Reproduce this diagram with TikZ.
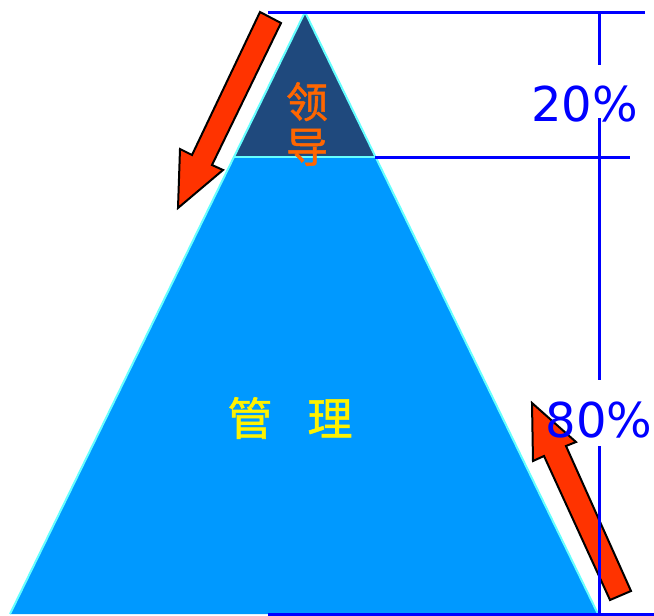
\documentclass[tikz,border=0pt]{standalone}
\usepackage{fontspec}
\setmainfont{DejaVu Sans}
\newfontfamily\cjk[FakeBold=1.2]{Noto Sans CJK SC}
\definecolor{darkpart}{HTML}{1F497D}
\definecolor{lightpart}{HTML}{0099FF}
\definecolor{edgecyan}{HTML}{66FFFF}
\definecolor{arrowred}{HTML}{FF3300}
\definecolor{leadtext}{HTML}{FF6600}
\definecolor{linkblue}{HTML}{0000FF}
\begin{document}
\begin{tikzpicture}[x=1pt,y=-1pt,
  part/.style={draw=edgecyan,line width=2pt,line join=round},
  bigarrow/.style={fill=arrowred,draw=black,line width=2pt,line join=miter},
  dimline/.style={draw=linkblue,line width=3pt},
  pct/.style={text=linkblue,inner sep=0pt,anchor=base,font=\fontsize{48}{48}\selectfont},
]
\useasboundingbox (0,0) rectangle (654,616);
% pyramid
\coordinate (apex) at (305,12);
\coordinate (bl) at (10,614);
\coordinate (br) at (598,614);
\coordinate (ml) at (234,157);
\coordinate (mr) at (375,157);
\fill[lightpart] (ml) -- (mr) -- (br) -- (bl) -- cycle;
\fill[darkpart] (apex) -- (mr) -- (ml) -- cycle;
\draw[part] (bl) -- (apex) -- (br);
\draw[part] (ml) -- (mr);
% arrows
\draw[bigarrow] (260,12) -- (281,23) -- (212,165) -- (223,170) -- (178,208) -- (180,149) -- (192,155) -- cycle;
\draw[bigarrow] (610,600) -- (544,456) -- (533,461) -- (532,403) -- (576,442) -- (566,446) -- (631,591) -- cycle;
% dimension lines
\coordinate (t1) at (268,12);
\coordinate (t2) at (645,12);
\coordinate (m2) at (630,157);
\coordinate (b1) at (268,614);
\coordinate (b2) at (654,614);
\draw[dimline] (t1) -- (t2);
\draw[dimline] (mr) -- (m2);
\draw[dimline] (b1) -- (b2);
\draw[dimline] (599,12) -- (599,65);
\draw[dimline] (599,118) -- (599,380);
\draw[dimline] (599,446) -- (599,614);
% texts
\node[pct] (p20) at (584.5,121) {20\%};
\node[pct] (p80) at (599,437) {80\%};
\node[inner sep=0pt,text=leadtext,align=center,font=\cjk\fontsize{42}{45}\selectfont] (lead) at (307,124) {领\\导};
\node[inner sep=0pt,text=yellow,font=\cjk\fontsize{45}{45}\selectfont] (mgmt) at (290,418) {管\hspace{35pt}理};
\end{tikzpicture}
\end{document}
